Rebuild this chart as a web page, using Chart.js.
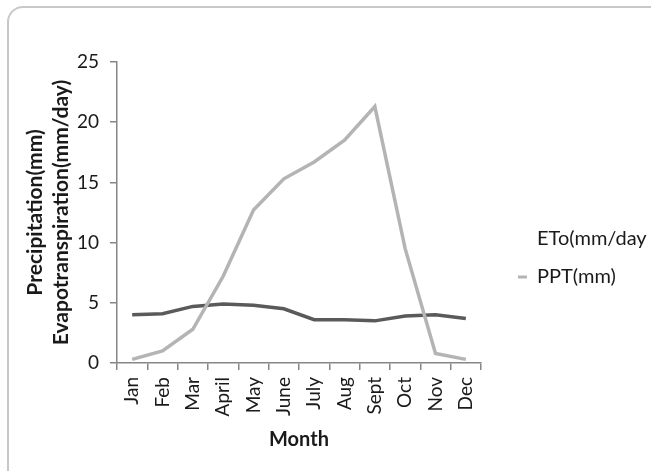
<!DOCTYPE html>
<html>
<head>
<meta charset="utf-8">
<script src="https://cdn.jsdelivr.net/npm/chart.js@4/dist/chart.umd.min.js"></script>
<style>
  html, body { margin: 0; padding: 0; background: #fff; overflow: hidden; }
  #frame {
    position: absolute; left: 7px; top: 6px; width: 680px; height: 500px;
    border: 2px solid #c8c8c8; border-radius: 16px; box-sizing: border-box;
  }
  #wrap { position: absolute; left: 0; top: 0; width: 651px; height: 471px; }
</style>
</head>
<body>
<div id="frame"></div>
<div id="wrap"><canvas id="chart"></canvas></div>
<script>
// Дані
const months = ['Jan', 'Feb', 'Mar', 'April', 'May', 'June', 'July', 'Aug', 'Sept', 'Oct', 'Nov', 'Dec'];
const etoValues = [4.0, 4.1, 4.7, 4.9, 4.8, 4.5, 3.6, 3.6, 3.5, 3.9, 4.0, 3.7];
const pptValues = [0.3, 1.0, 2.8, 7.2, 12.7, 15.3, 16.7, 18.5, 21.3, 9.5, 0.8, 0.3];
const yTicks = [0, 5, 10, 15, 20, 25];

const axisColor = '#868686';
const textColor = '#1a1a1a';

Chart.defaults.font.family = 'Lato';
Chart.defaults.color = textColor;

new Chart(document.getElementById('chart'), {
    type: 'line',
    data: {
        labels: months,
        datasets: [
            { label: 'ETo(mm/day', data: etoValues, borderColor: '#5a5a5a', backgroundColor: '#5a5a5a', borderWidth: 3.5, pointRadius: 0, tension: 0, order: 1 },
            { label: 'PPT(mm)', data: pptValues, borderColor: '#b4b4b4', backgroundColor: '#b4b4b4', borderWidth: 3.5, pointRadius: 0, tension: 0, order: 0 }
        ]
    },
    options: {
        responsive: true,
        maintainAspectRatio: false,
        animation: false,
        layout: { padding: { top: 62, bottom: 17, left: 0, right: 0 } },
        plugins: {
            tooltip: { enabled: false },
            legend: {
                position: 'right',
                align: 'center',
                maxWidth: 151,
                labels: {
                    font: { size: 20 },
                    color: textColor,
                    boxWidth: 9,
                    boxHeight: 3,
                    padding: 18,
                    sort: (a, b) => a.datasetIndex - b.datasetIndex,
                    // у легенді ETo без маркера, як на оригіналі
                    generateLabels(chart) {
                        const items = Chart.defaults.plugins.legend.labels.generateLabels(chart);
                        items.forEach(it => {
                            it.lineWidth = 0;
                            if (it.datasetIndex === 0) {
                                it.fillStyle = 'rgba(0,0,0,0)';
                                it.strokeStyle = 'rgba(0,0,0,0)';
                            } else {
                                it.fillStyle = '#b4b4b4';
                            }
                        });
                        return items;
                    }
                }
            }
        },
        scales: {
            x: {
                offset: true,
                grid: { offset: true, drawOnChartArea: false, drawTicks: true, tickLength: 7, color: axisColor, lineWidth: 1.5 },
                border: { color: axisColor, width: 1.5 },
                ticks: { autoSkip: false, minRotation: 90, maxRotation: 90, padding: 7, font: { size: 19 }, color: textColor },
                title: { display: true, text: 'Month', font: { size: 20, weight: 'bold', lineHeight: 1.2 }, color: textColor, padding: { top: 4, bottom: 2 } },
                afterFit(scale) { scale.height = 91; }
            },
            y: {
                min: 0,
                max: 25,
                afterBuildTicks(scale) { scale.ticks = yTicks.map(v => ({ value: v })); },
                grid: { drawOnChartArea: false, drawTicks: true, tickLength: 7, color: axisColor, lineWidth: 1.5 },
                border: { color: axisColor, width: 1.5 },
                ticks: { padding: 11, font: { size: 19 }, color: textColor },
                title: {
                    display: true,
                    text: ['Precipitation(mm)', 'Evapotranspiration(mm/day)'],
                    font: { size: 21, weight: 'bold', lineHeight: 1.25 },
                    color: textColor,
                    padding: { top: 22, bottom: 0 }
                },
                afterFit(scale) { scale.width = 117; }
            },
            // порожня вісь лише як відступ між графіком і легендою
            y2: {
                position: 'right',
                grid: { display: false },
                border: { display: false },
                ticks: { display: false },
                afterFit(scale) { scale.width = 19; }
            }
        }
    }
});
</script>
</body>
</html>
